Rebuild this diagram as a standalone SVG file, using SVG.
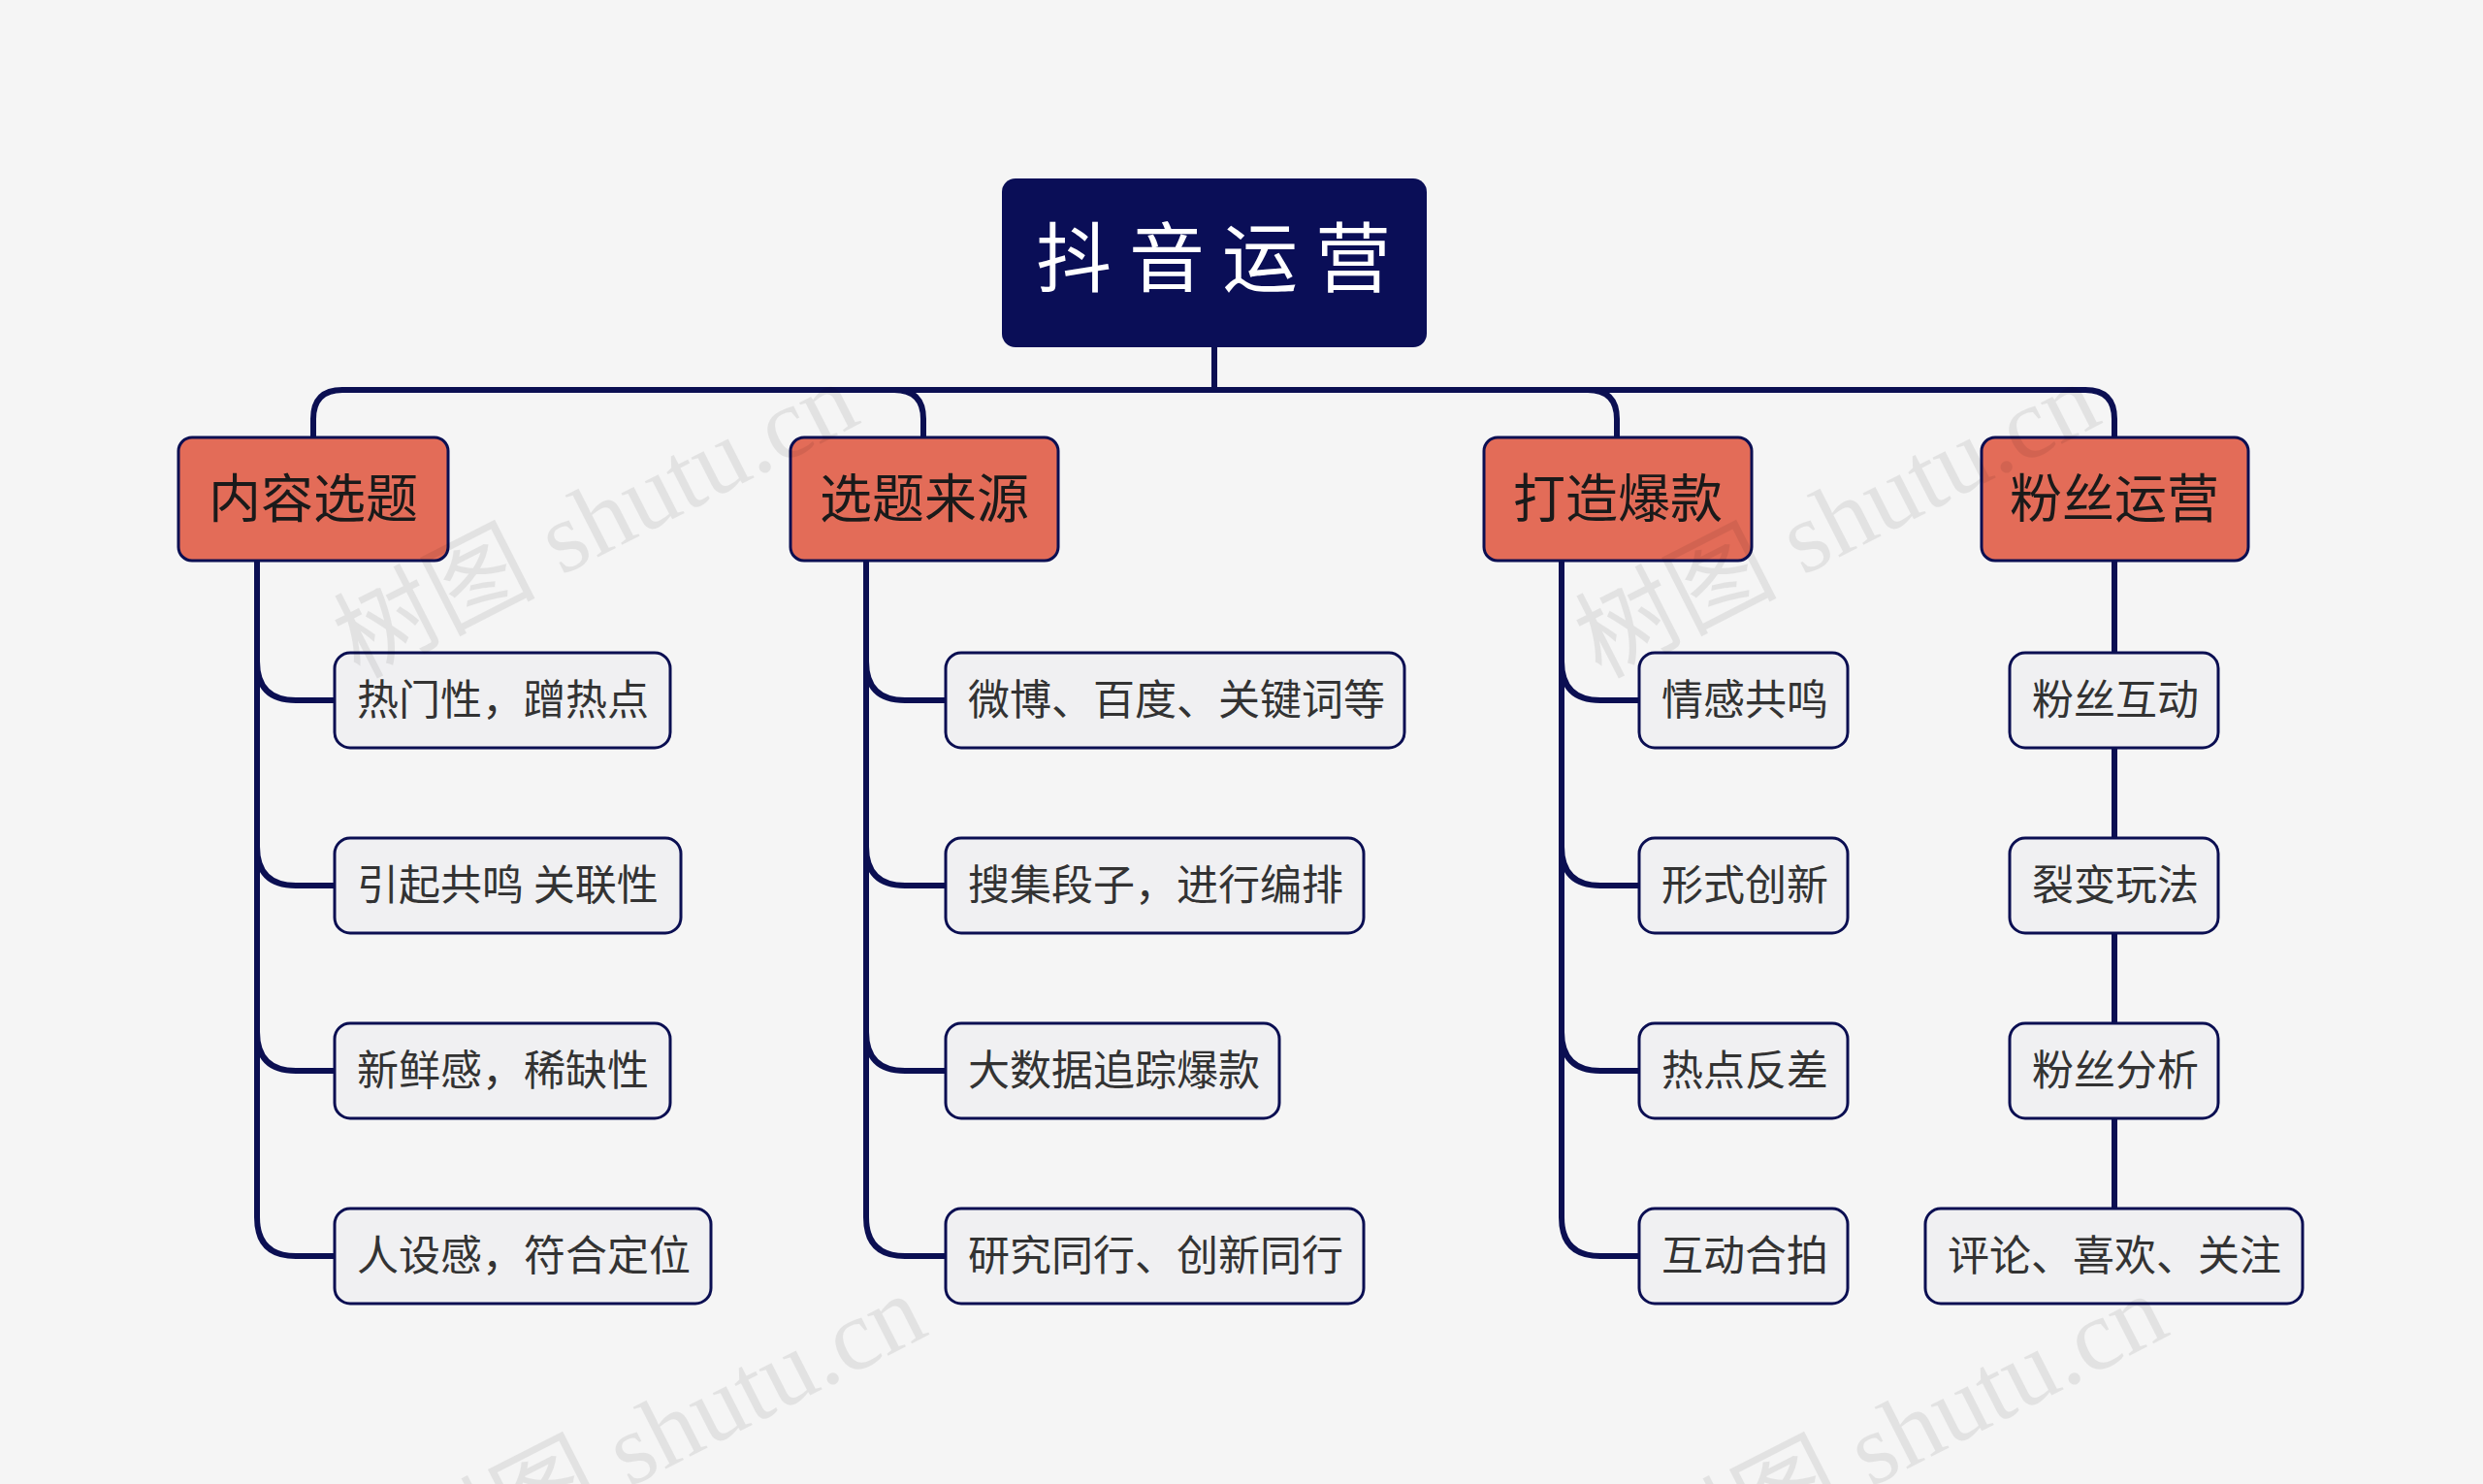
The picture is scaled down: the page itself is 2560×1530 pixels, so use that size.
<svg xmlns="http://www.w3.org/2000/svg" width="2560" height="1530" viewBox="0 0 2560 1530">
<style>
.c{fill:none;stroke:#0b0f52;stroke-width:6}
.l1 rect{fill:#e36c58;stroke:#0b0f52;stroke-width:3}
.l1 text{font-family:"Noto Sans CJK SC",sans-serif;font-size:54px;fill:#1a1a1a;text-anchor:middle}
.l2 rect{fill:#f0f0f2;stroke:#0b0f52;stroke-width:3}
.l2 text{font-family:"Noto Sans CJK SC",sans-serif;font-size:43px;fill:#333}
.wm{font-family:"Liberation Serif","Noto Sans CJK SC",serif;font-size:104px;fill:#000;opacity:0.07}
</style>
<rect width="2560" height="1530" fill="#f5f5f5"/>
<g id="connectors" class="c">
<path d="M1252,358V402"/>
<path d="M323,451V432Q323,402 353,402H2150Q2180,402 2180,432V451"/>
<path d="M922,402Q952,402 952,432V451"/>
<path d="M1637,402Q1667,402 1667,432V451"/>
<path d="M265,578V682Q265,722 305,722H345M265,682V873Q265,913 305,913H345M265,873V1064Q265,1104 305,1104H345M265,1064V1255Q265,1295 305,1295H345"/>
<path d="M893,578V682Q893,722 933,722H975M893,682V873Q893,913 933,913H975M893,873V1064Q893,1104 933,1104H975M893,1064V1255Q893,1295 933,1295H975"/>
<path d="M1610,578V682Q1610,722 1650,722H1690M1610,682V873Q1610,913 1650,913H1690M1610,873V1064Q1610,1104 1650,1104H1690M1610,1064V1255Q1610,1295 1650,1295H1690"/>
<path d="M2180,578V1246"/>
</g>
<g id="root"><rect x="1033" y="184" width="438" height="174" rx="14" fill="#0a0e57"/><text x="1260" y="295" font-family="Noto Sans CJK SC,sans-serif" font-size="78" fill="#fff" text-anchor="middle" letter-spacing="18">抖音运营</text></g>
<g id="n1" class="l1"><rect x="184" y="451" width="278" height="127" rx="14"/><text x="323" y="534">内容选题</text></g>
<g id="n2" class="l1"><rect x="815" y="451" width="276" height="127" rx="14"/><text x="953" y="534">选题来源</text></g>
<g id="n3" class="l1"><rect x="1530" y="451" width="276" height="127" rx="14"/><text x="1668" y="534">打造爆款</text></g>
<g id="n4" class="l1"><rect x="2043" y="451" width="275" height="127" rx="14"/><text x="2180" y="534">粉丝运营</text></g>
<g id="a1" class="l2"><rect x="345" y="673" width="346" height="98" rx="16"/><text x="368" y="737">热门性，蹭热点</text></g>
<g id="a2" class="l2"><rect x="345" y="864" width="357" height="98" rx="16"/><text x="368" y="928">引起共鸣 关联性</text></g>
<g id="a3" class="l2"><rect x="345" y="1055" width="346" height="98" rx="16"/><text x="368" y="1119">新鲜感，稀缺性</text></g>
<g id="a4" class="l2"><rect x="345" y="1246" width="388" height="98" rx="16"/><text x="368" y="1310">人设感，符合定位</text></g>
<g id="b1" class="l2"><rect x="975" y="673" width="473" height="98" rx="16"/><text x="998" y="737">微博、百度、关键词等</text></g>
<g id="b2" class="l2"><rect x="975" y="864" width="431" height="98" rx="16"/><text x="998" y="928">搜集段子，进行编排</text></g>
<g id="b3" class="l2"><rect x="975" y="1055" width="344" height="98" rx="16"/><text x="998" y="1119">大数据追踪爆款</text></g>
<g id="b4" class="l2"><rect x="975" y="1246" width="431" height="98" rx="16"/><text x="998" y="1310">研究同行、创新同行</text></g>
<g id="c1" class="l2"><rect x="1690" y="673" width="215" height="98" rx="16"/><text x="1713" y="737">情感共鸣</text></g>
<g id="c2" class="l2"><rect x="1690" y="864" width="215" height="98" rx="16"/><text x="1713" y="928">形式创新</text></g>
<g id="c3" class="l2"><rect x="1690" y="1055" width="215" height="98" rx="16"/><text x="1713" y="1119">热点反差</text></g>
<g id="c4" class="l2"><rect x="1690" y="1246" width="215" height="98" rx="16"/><text x="1713" y="1310">互动合拍</text></g>
<g id="d1" class="l2"><rect x="2072" y="673" width="215" height="98" rx="16"/><text x="2095" y="737">粉丝互动</text></g>
<g id="d2" class="l2"><rect x="2072" y="864" width="215" height="98" rx="16"/><text x="2095" y="928">裂变玩法</text></g>
<g id="d3" class="l2"><rect x="2072" y="1055" width="215" height="98" rx="16"/><text x="2095" y="1119">粉丝分析</text></g>
<g id="d4" class="l2"><rect x="1985" y="1246" width="389" height="98" rx="16"/><text x="2008" y="1310">评论、喜欢、关注</text></g>
<g id="watermarks">
<text class="wm" transform="translate(370,700) rotate(-27)">树图 shutu.cn</text>
<text class="wm" transform="translate(1650,700) rotate(-27)">树图 shutu.cn</text>
<text class="wm" transform="translate(440,1640) rotate(-27)">树图 shutu.cn</text>
<text class="wm" transform="translate(1720,1640) rotate(-27)">树图 shutu.cn</text>
</g>
</svg>
